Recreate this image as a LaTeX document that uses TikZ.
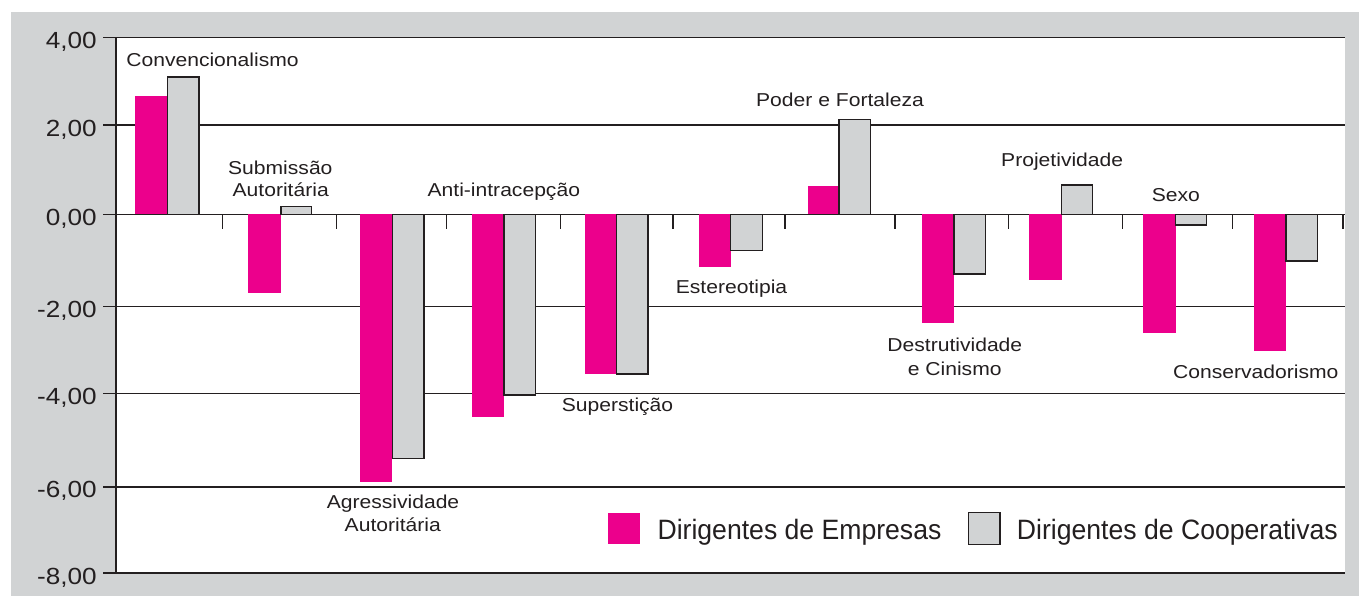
\documentclass[tikz,border=0pt]{standalone}
\usepackage{fontspec}
\setmainfont{Liberation Sans}
\usepackage{graphicx}
\definecolor{mag}{HTML}{EC008C}
\definecolor{lgray}{HTML}{D1D3D4}
\definecolor{ink}{HTML}{231F20}
\newcommand{\sx}[2]{\scalebox{#1}[1]{#2}}
\begin{document}
\begin{tikzpicture}[x=0.75pt,y=-0.75pt,
  gridline/.style={draw=ink,line width=1.15pt},
  mbar/.style={fill=mag},
  gbar/.style={fill=lgray,draw=ink,line width=1.05pt},
  lbl/.style={font=\fontsize{14}{16}\selectfont,text=ink,inner sep=0pt,anchor=base},
  axlbl/.style={font=\fontsize{17.5}{20}\selectfont,text=ink,inner sep=0pt,anchor=base east},
  leglbl/.style={font=\fontsize{21}{24}\selectfont,text=ink,inner sep=0pt,anchor=base west}]
\useasboundingbox (0,0) rectangle (1359,596);
\fill[white] (0,0) rectangle (1359,596);
\fill[lgray] (11,12) rectangle (1359,596);
\fill[white] (116,37.7) rectangle (1345,573);
% grid lines and y ticks
\foreach \yy in {37.7,125,214.3,306.7,393.5,486.8,572.8}
  \draw[gridline] (103,\yy) -- (1345,\yy);
\draw[gridline] (116,37.7) -- (116,572.8);
% category ticks
\foreach \xx in {222.7,336.5,446.7,560.7,673,785,895,1008.5,1122.3,1232.7,1343}
  \draw[gridline] (\xx,214.3) -- (\xx,229.3);
% bars: left, mid, right, magenta end, gray end
\foreach \l/\m/\r/\ym/\yg in {135/167.3/199/95.7/77,
  248.3/281/311.7/292.7/206.7,
  360/392.3/424/481.7/458.3,
  472/504/535.7/416.7/395,
  585/616.7/648/374.3/374,
  699/730.7/762.3/266.7/250.7,
  807.7/839/870.7/186/119.3,
  922.2/954/985.5/322.7/274,
  1029.3/1061.7/1092.7/280/185,
  1143.3/1175.7/1206.7/332.7/225,
  1254.3/1286/1317.7/351/261}
{
  \fill[mbar] (\l,214.3) rectangle (\m,\ym);
  \filldraw[gbar] (\m,214.3) rectangle (\r,\yg);
}
% y axis labels
\node[axlbl] (y4) at (97,48.7) {\sx{1.12}{4,00}};
\node[axlbl] (y2) at (97,136) {\sx{1.12}{2,00}};
\node[axlbl] (y0) at (97,225.3) {\sx{1.12}{0,00}};
\node[axlbl] (ym2) at (97,317.7) {\sx{1.12}{-2,00}};
\node[axlbl] (ym4) at (97,404.5) {\sx{1.12}{-4,00}};
\node[axlbl] (ym6) at (97,497.8) {\sx{1.12}{-6,00}};
\node[axlbl] (ym8) at (97,584) {\sx{1.12}{-8,00}};
% category labels
\node[lbl] (l0) at (212.5,66.7) {\sx{1.13}{Convencionalismo}};
\node[lbl] (l1a) at (280.3,174) {\sx{1.13}{Submissão}};
\node[lbl] (l1b) at (280.7,196.7) {\sx{1.13}{Autoritária}};
\node[lbl] (l2a) at (393,508.3) {\sx{1.13}{Agressividade}};
\node[lbl] (l2b) at (392.8,531.7) {\sx{1.13}{Autoritária}};
\node[lbl] (l3) at (503.8,196.7) {\sx{1.13}{Anti-intracepção}};
\node[lbl] (l4) at (617.5,411) {\sx{1.13}{Superstição}};
\node[lbl] (l5) at (731.5,293.3) {\sx{1.13}{Estereotipia}};
\node[lbl] (l6) at (840,106.7) {\sx{1.13}{Poder e Fortaleza}};
\node[lbl] (l7a) at (954.8,351.7) {\sx{1.13}{Destrutividade}};
\node[lbl] (l7b) at (954.7,375) {\sx{1.13}{e Cinismo}};
\node[lbl] (l8) at (1062.2,166.7) {\sx{1.13}{Projetividade}};
\node[lbl] (l9) at (1175.8,201.7) {\sx{1.13}{Sexo}};
\node[lbl] (l10) at (1255.8,378.3) {\sx{1.13}{Conservadorismo}};
% legend
\fill[mbar] (607.7,512.7) rectangle (640,544.3);
\filldraw[gbar] (968.3,512.7) rectangle (1000,544.3);
\node[leglbl] (lg1) at (657.3,539.3) {\sx{0.95}{Dirigentes de Empresas}};
\node[leglbl] (lg2) at (1016.7,539.3) {\sx{0.95}{Dirigentes de Cooperativas}};
\end{tikzpicture}
\end{document}
